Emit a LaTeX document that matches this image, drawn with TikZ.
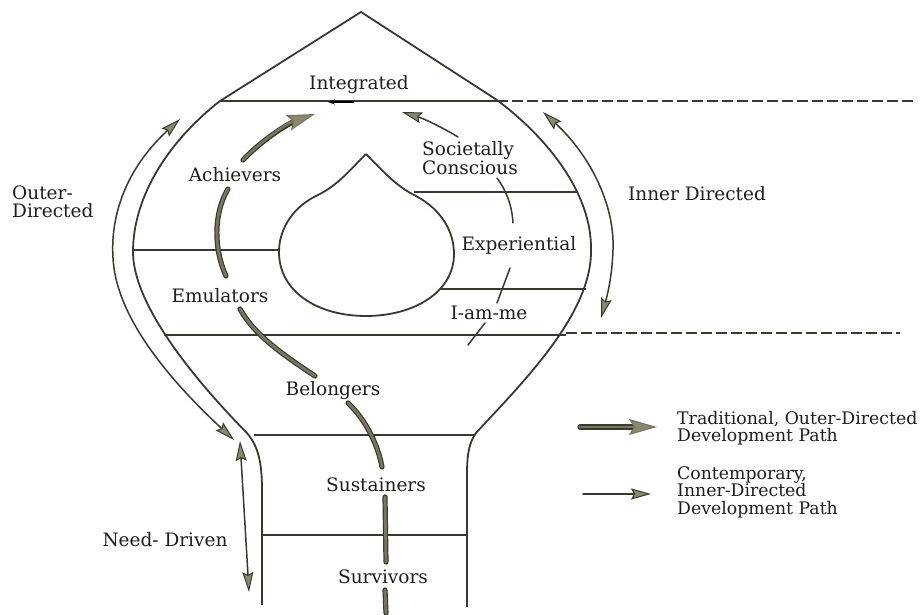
\documentclass[tikz,border=0pt]{standalone}
\usepackage{fontspec}
\setmainfont{DejaVu Serif}
\usetikzlibrary{arrows.meta}
\definecolor{ink}{HTML}{3A392F}
\definecolor{olivefill}{HTML}{8A886E}
\definecolor{olivebody}{HTML}{78765F}
\definecolor{textink}{HTML}{1E1E1A}
\tikzset{
  outline/.style={draw=ink, line width=1.8pt, line join=round},
  divider/.style={draw=ink, line width=1.6pt},
  dashdiv/.style={draw=ink, line width=1.6pt, dash pattern=on 11pt off 4pt},
  thinarrow/.style={draw=ink, line width=1.5pt, line cap=round,
    -{Stealth[length=20pt,width=11pt,inset=3pt,fill=olivefill,line width=1pt]}},
  thinline/.style={draw=ink, line width=1.5pt, line cap=round},
  twoway/.style={draw=ink, line width=1.5pt,
    {Stealth[length=20pt,width=11pt,inset=3pt,fill=olivefill,line width=1pt]}-{Stealth[length=20pt,width=11pt,inset=3pt,fill=olivefill,line width=1pt]}},
  thickpath/.style={draw=olivebody, line width=2.8pt, line cap=round,
    preaction={draw=ink, line width=5.2pt, line cap=round}},
  thickarrow/.style={draw=olivebody, line width=2.8pt, line cap=round,
    preaction={draw=ink, line width=5.2pt, line cap=round, arrows=-, shorten >=16pt},
    -{Stealth[length=28pt,width=16pt,inset=5pt,fill=olivefill,line width=1.2pt]}},
  lbl/.style={font=\fontsize{18.5}{18.5}\selectfont, text=textink, inner sep=0pt},
  keylbl/.style={font=\fontsize{17.3}{17.5}\selectfont, text=textink, inner sep=0pt, align=left, anchor=west},
}
\begin{document}
\begin{tikzpicture}[x=1pt,y=-1pt]
\useasboundingbox (0,0) rectangle (922,615);
\fill[white] (0,0) rectangle (922,615);

% dome on top of the bulb
\draw[outline] (220,101) -- (361,12) -- (497,100);

% bulb outline with its neck
\draw[outline] (220,101) .. controls (170,140) and (133,195) .. (133,252)
  .. controls (133,305) and (195,380) .. (246,432)
  .. controls (258,445) and (262,462) .. (262,490) -- (262,605);
\draw[outline] (497,100) .. controls (550,140) and (592,195) .. (591,250)
  .. controls (592,315) and (520,385) .. (476,433)
  .. controls (466,447) and (467,465) .. (467,490) -- (467,607);

% inner drop
\draw[outline] (366,154) .. controls (386,174) and (396,186) .. (416,196)
  .. controls (442,210) and (454,232) .. (454,254)
  .. controls (454,292) and (414,316) .. (366,316)
  .. controls (318,316) and (279,292) .. (279,252)
  .. controls (279,228) and (294,206) .. (318,195)
  .. controls (338,185) and (350,170) .. (366,154);

% stage dividers
\draw[divider] (220,101) -- (497,101);
\draw[dashdiv] (497,101) -- (915,101);
\draw[divider] (414,192) -- (578,192);
\draw[divider] (134,250) -- (279,250);
\draw[divider] (440,289) -- (586,289);
\draw[divider] (164,335) -- (566,335);
\draw[dashdiv] (566,333) -- (900,333);
\draw[divider] (254,435) -- (475,435);
\draw[divider] (262,535) -- (467,535);

% small mark on the top divider
\draw[draw=black, line width=2.4pt, -{Stealth[length=7pt,width=5pt]}] (354,102) -- (328,102);

% stage labels
\node[lbl] (integ) at (359,85) {Integrated};
\node[lbl] (achv) at (235,175) {Achievers};
\node[lbl, align=left] (soc) at (470,158) {Societally\\Conscious};
\node[lbl] (exper) at (519,245) {Experiential};
\node[lbl] (iam) at (489,313) {I-am-me};
\node[lbl] (emul) at (220,296) {Emulators};
\node[lbl] (belong) at (333,391) {Belongers};
\node[lbl] (sust) at (376,485) {Sustainers};
\node[lbl] (surv) at (383,577) {Survivors};
\node[lbl, align=left, anchor=west] (outer) at (12,202) {Outer-\\Directed};
\node[lbl] (inner) at (697,194) {Inner Directed};
\node[lbl] (need) at (165,540) {Need- Driven};

% traditional, outer-directed path
\coordinate (sv1) at (385,590); \coordinate (sv2) at (386,613);
\coordinate (su1) at (385,497); \coordinate (su2) at (386,562);
\draw[thickpath] (sv1) -- (sv2);
\draw[thickpath] (su1) -- (su2);
\coordinate (be1) at (382,467); \coordinate (be2) at (348,403);
\draw[thickpath] (be1) .. controls (378,445) and (366,420) .. (be2);
\coordinate (em1) at (315,376); \coordinate (em2) at (240,309);
\draw[thickpath] (em1) .. controls (285,356) and (255,336) .. (em2);
\coordinate (ac1) at (226,276); \coordinate (ac2) at (228,189);
\draw[thickpath] (ac1) .. controls (214,250) and (213,214) .. (ac2);
\coordinate (in1) at (243,160); \coordinate (in2) at (315,114);
\draw[thickarrow] (in1) .. controls (258,144) and (285,124) .. (in2);

% contemporary, inner-directed path
\coordinate (ia1) at (468,345); \coordinate (ia2) at (485,323);
\draw[thinline] (ia1) -- (ia2);
\coordinate (ex1) at (497,303); \coordinate (ex2) at (510,268);
\draw[thinline] (ex1) -- (ex2);
\coordinate (sc1) at (513,223); \coordinate (sc2) at (497,178);
\draw[thinline] (sc1) .. controls (512,205) and (506,190) .. (sc2);
\coordinate (ig1) at (458,137); \coordinate (ig2) at (402,112);
\draw[thinarrow] (ig1) .. controls (440,126) and (422,118) .. (ig2);

% side ranges
\coordinate (od1) at (180,119); \coordinate (od2) at (234,440);
\draw[twoway] (od1) .. controls (130,165) and (110,210) .. (113,258)
  .. controls (116,320) and (175,385) .. (od2);
\coordinate (nd1) at (240,441); \coordinate (nd2) at (249,592);
\draw[twoway] (nd1) -- (nd2);
\coordinate (id1) at (543,112); \coordinate (id2) at (601,318);
\draw[twoway] (id1) .. controls (590,155) and (615,205) .. (613,250)
  .. controls (612,280) and (606,300) .. (id2);

% key
\coordinate (k1a) at (580,427); \coordinate (k1b) at (657,427);
\draw[thickarrow] (k1a) -- (k1b);
\node[keylbl] (key1) at (677,428) {Traditional, Outer-Directed\\Development Path};
\coordinate (k2a) at (583,494); \coordinate (k2b) at (651,494);
\draw[thinarrow] (k2a) -- (k2b);
\node[keylbl] (key2) at (677,492) {Contemporary,\\Inner-Directed\\Development Path};
\end{tikzpicture}
\end{document}
